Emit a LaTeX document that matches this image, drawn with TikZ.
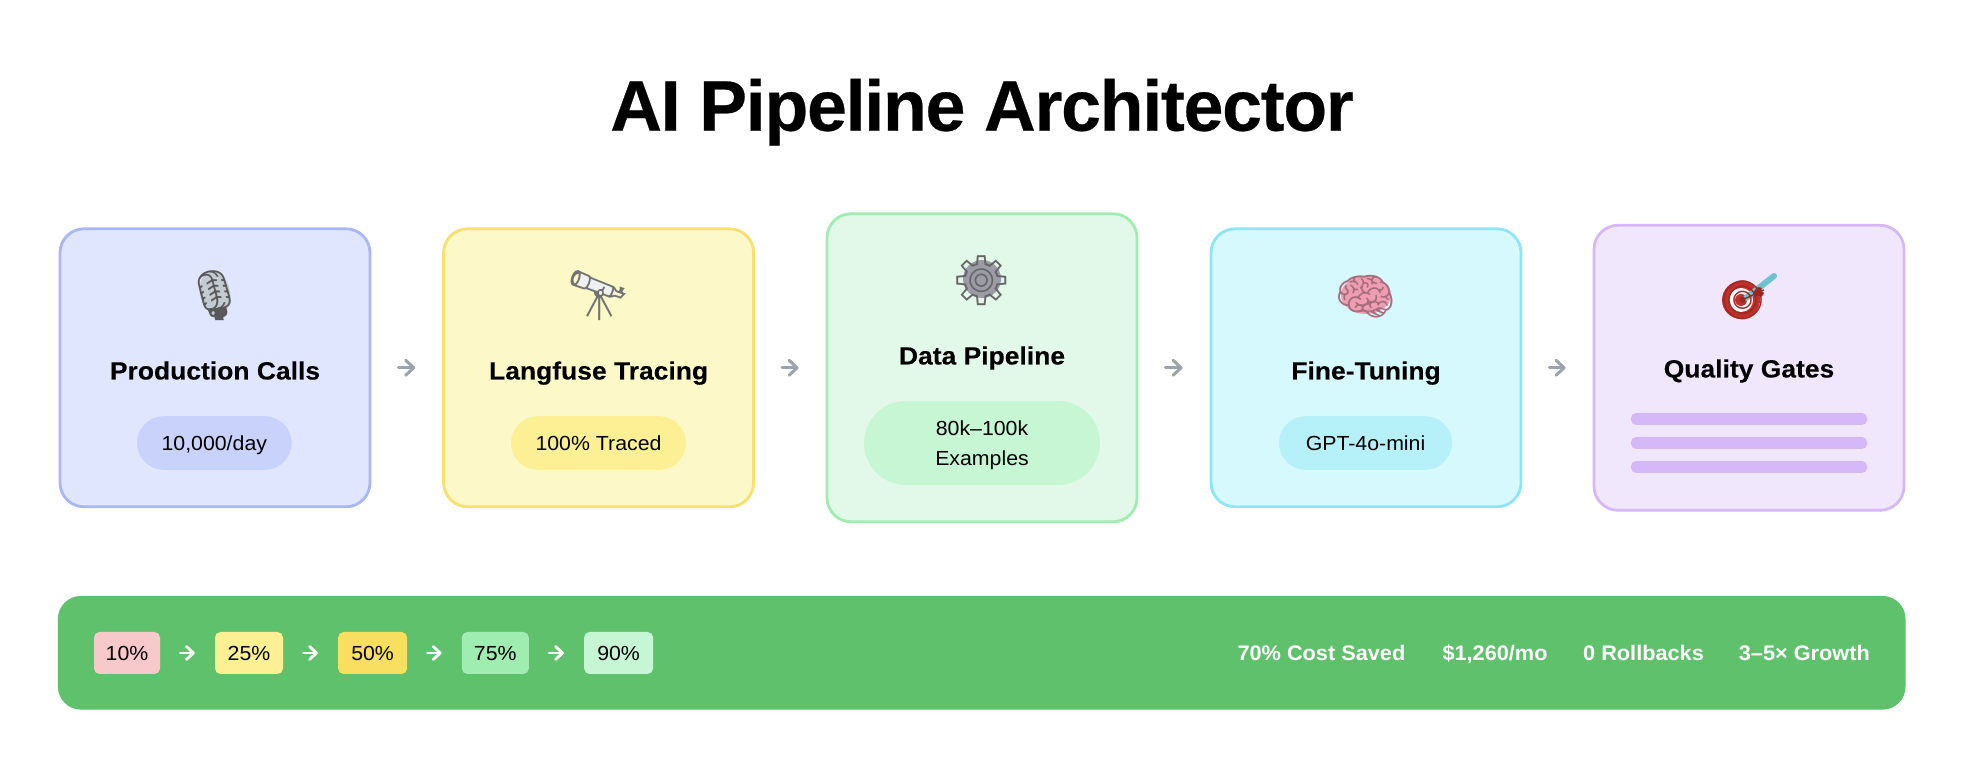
\documentclass[tikz,border=0pt]{standalone}
\usepackage{fontspec}
\setmainfont{Liberation Sans}[FakeStretch=1.045]
\newfontfamily\emojifont{Noto Emoji}
\newfontface\headingfont{Liberation Sans Bold}[LetterSpace=-1.7,FakeBold=0.4]
\newfontface\cardfont{Liberation Sans Bold}[FakeStretch=1.06,FakeBold=0.15]
\newfontface\statfont{Liberation Sans Bold}[FakeStretch=1.03]
\usetikzlibrary{arrows.meta}
\usetikzlibrary{shapes.misc}
\definecolor{prodfill}{HTML}{E0E6FE}
\definecolor{prodline}{HTML}{A9B6F8}
\definecolor{prodpill}{HTML}{C8D2FB}
\definecolor{langfill}{HTML}{FDF8C8}
\definecolor{langline}{HTML}{F9DF6B}
\definecolor{langpill}{HTML}{FDF094}
\definecolor{datafill}{HTML}{E2F9E9}
\definecolor{dataline}{HTML}{A0EDB2}
\definecolor{datapill}{HTML}{C7F6D4}
\definecolor{tunefill}{HTML}{D6F9FE}
\definecolor{tuneline}{HTML}{8DE6F8}
\definecolor{tunepill}{HTML}{B6F1FA}
\definecolor{gatefill}{HTML}{F1E7FD}
\definecolor{gateline}{HTML}{D5B8F7}
\definecolor{arrowgrey}{HTML}{9CA3AF}
\definecolor{bannergreen}{HTML}{5FC16C}
\definecolor{tagred}{HTML}{F8C9CB}
\definecolor{tagamber}{HTML}{F9DF60}
\definecolor{micsilver}{HTML}{C3CAD2}
\definecolor{scopewhite}{HTML}{EEF0F2}
\definecolor{gearsteel}{HTML}{9A9CA6}
\definecolor{brainpink}{HTML}{EE9DB2}
\definecolor{targetred}{HTML}{C0302A}
\definecolor{dartteal}{HTML}{6FC3CF}
\tikzset{
	card/.style={draw,rounded corners=0.24cm,line width=0.028cm,minimum width=3.1cm,minimum height=2.78cm,inner sep=0},
	pill/.style={rounded rectangle,minimum height=0.537cm,inner sep=0,text height=0.15cm,text depth=0cm,font=\fontsize{5.8}{7}\selectfont},
	tag/.style={rounded corners=0.055cm,minimum height=0.42cm,inner sep=0,text height=0.15cm,text depth=0cm,font=\fontsize{5.8}{7}\selectfont},
	cardtitle/.style={anchor=base,inner sep=0,font=\fontsize{7.1}{9}\selectfont\cardfont},
	icon/.style={inner sep=0,font=\fontsize{14}{16}\selectfont\emojifont},
	gatebar/.style={fill=gateline,rounded corners=0.05cm,minimum width=2.36cm,minimum height=0.12cm,inner sep=0},
	stat/.style={anchor=base,inner sep=0,text=white,font=\fontsize{6}{8}\selectfont\statfont},
	flow/.style={arrowgrey,line width=0.03cm,line cap=round,-{Straight Barb[length=0.08cm,width=0.15cm,round]},shorten >=0.27cm,shorten <=0.27cm},
	rollout/.style={white,line width=0.028cm,line cap=round,-{Straight Barb[length=0.07cm,width=0.13cm,round]},shorten >=0.195cm,shorten <=0.195cm}
}
\begin{document}
\begin{tikzpicture}
	\useasboundingbox (0,0) rectangle (19.7,-7.72);
	\node[anchor=base,inner sep=0,font=\fontsize{20.37}{24}\selectfont\headingfont] (heading) at (9.82,-1.307) {AI Pipeline Architector};
	\node[card,draw=prodline,fill=prodfill] (calls) at (2.15,-3.678) {};
	\node[card,draw=langline,fill=langfill] (tracing) at (5.986,-3.678) {};
	\node[card,draw=dataline,fill=datafill,minimum height=3.08cm] (data) at (9.82,-3.678) {};
	\node[card,draw=tuneline,fill=tunefill] (tuning) at (13.66,-3.678) {};
	\node[card,draw=gateline,fill=gatefill,minimum height=2.85cm] (gates) at (17.49,-3.678) {};
	\fill[micsilver,rotate around={12:(2.15,-2.93)}] (2.15,-2.93) ellipse (0.15 and 0.22);
	\draw[scopewhite,line width=0.1cm] (5.79,-2.79) -- (6.13,-2.93);
	\fill[gearsteel] (9.82,-2.79) circle (0.19);
	\fill[brainpink] (13.66,-2.95) ellipse (0.25 and 0.19);
	\fill[targetred] (17.41,-3) circle (0.19);
	\fill[white] (17.41,-3) circle (0.12);
	\fill[targetred] (17.41,-3) circle (0.06);
	\draw[dartteal,line width=0.06cm,line cap=round] (17.46,-2.98) -- (17.74,-2.76);
	\node[icon,text=black!65] (micicon) at (2.15,-2.955) {🎙};
	\node[icon,text=black!55] (scopeicon) at (5.986,-2.955) {🔭};
	\node[icon,text=black!60] (gearicon) at (9.82,-2.81) {⚙};
	\node[icon,text=brainpink!70!black] (brainicon) at (13.66,-2.97) {🧠};
	\node[icon,text=targetred!80!black,font=\fontsize{11}{13}\selectfont\emojifont] (targeticon) at (17.44,-3) {🎯};
	\node[cardtitle] (callstitle) at (2.15,-3.795) {Production Calls};
	\node[cardtitle] (tracingtitle) at (5.986,-3.795) {Langfuse Tracing};
	\node[cardtitle] (datatitle) at (9.82,-3.645) {Data Pipeline};
	\node[cardtitle] (tuningtitle) at (13.66,-3.795) {Fine-Tuning};
	\node[cardtitle] (gatestitle) at (17.49,-3.775) {Quality Gates};
	\node[pill,fill=prodpill,minimum width=1.546cm] (callspill) at (2.143,-4.43) {10,000/day};
	\node[pill,fill=langpill,minimum width=1.75cm] (tracingpill) at (5.985,-4.43) {100\% Traced};
	\node[pill,fill=datapill,minimum width=2.36cm,minimum height=0.84cm] (datapill) at (9.82,-4.43) {};
	\node[inner sep=0,align=center,font=\fontsize{5.8}{7}\selectfont] (datacount) at (9.82,-4.455) {80k–100k\\[0.05cm]Examples};
	\node[pill,fill=tunepill,minimum width=1.73cm] (tuningpill) at (13.655,-4.43) {GPT-4o-mini};
	\node[gatebar] (gatebara) at (17.49,-4.19) {};
	\node[gatebar] (gatebarb) at (17.49,-4.43) {};
	\node[gatebar] (gatebarc) at (17.49,-4.67) {};
	\draw[flow] (calls) -- (tracing);
	\draw[flow] (tracing) -- (data);
	\draw[flow] (data) -- (tuning);
	\draw[flow] (tuning) -- (gates);
	\node[fill=bannergreen,rounded corners=0.23cm,minimum width=18.476cm,minimum height=1.137cm,inner sep=0] (banner) at (9.817,-6.528) {};
	\node[tag,fill=tagred,minimum width=0.66cm] (tagten) at (1.27,-6.53) {10\%};
	\node[tag,fill=langpill,minimum width=0.68cm] (tagquarter) at (2.49,-6.53) {25\%};
	\node[tag,fill=tagamber,minimum width=0.69cm] (taghalf) at (3.726,-6.53) {50\%};
	\node[tag,fill=dataline,minimum width=0.67cm] (tagthree) at (4.953,-6.53) {75\%};
	\node[tag,fill=datapill,minimum width=0.69cm] (tagninety) at (6.186,-6.53) {90\%};
	\draw[rollout] (tagten) -- (tagquarter);
	\draw[rollout] (tagquarter) -- (taghalf);
	\draw[rollout] (taghalf) -- (tagthree);
	\draw[rollout] (tagthree) -- (tagninety);
	\node[stat] (statcost) at (13.214,-6.61) {70\% Cost Saved};
	\node[stat] (statmoney) at (14.95,-6.61) {\$1,260/mo};
	\node[stat] (statback) at (16.435,-6.61) {0 Rollbacks};
	\node[stat] (statgrowth) at (18.043,-6.61) {3–5× Growth};
\end{tikzpicture}
\end{document}
